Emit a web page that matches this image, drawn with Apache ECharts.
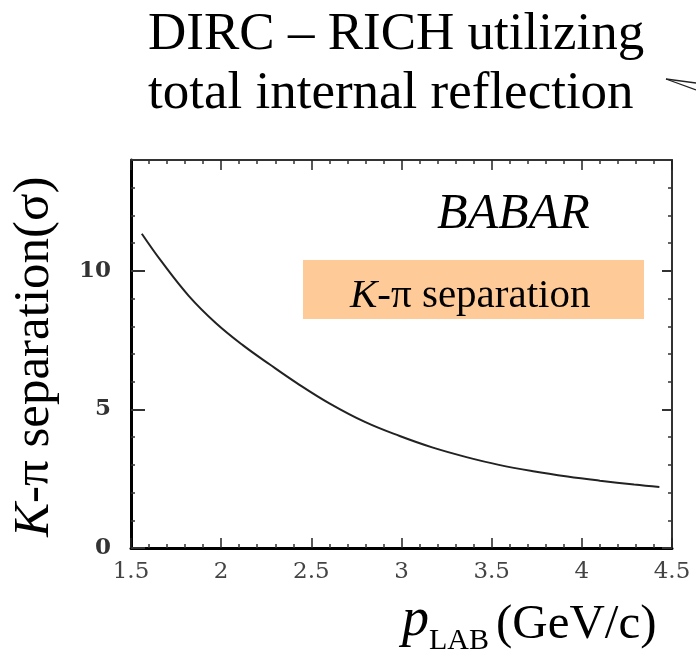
<!DOCTYPE html>
<html>
<head>
<meta charset="utf-8">
<script src="https://cdn.jsdelivr.net/npm/echarts@6/dist/echarts.min.js"></script>
<style>html,body{margin:0;padding:0;background:#fff;}#c{width:696px;height:652px;}</style>
</head>
<body>
<div id="c"></div>
<script>
// Data
const momentum = [1.56, 1.67, 1.82, 1.97, 2.12, 2.27, 2.42, 2.60, 2.80, 2.99, 3.17, 3.36, 3.54, 3.73, 3.92, 4.10, 4.29, 4.43];
const separation = [11.34, 10.33, 9.10, 8.12, 7.32, 6.62, 5.95, 5.22, 4.54, 4.04, 3.63, 3.28, 3.00, 2.77, 2.58, 2.43, 2.29, 2.20];
const titleLines = ['DIRC – RICH utilizing', 'total internal reflection'];
const experimentLabel = 'BABAR';
const boxLabel = 'K-π separation';
const xTickLabels = ['1.5', '2', '2.5', '3', '3.5', '4', '4.5'];
const yTickLabels = ['0', '5', '10'];

const chart = echarts.init(document.getElementById('c'));
const serif = '"Liberation Serif", "Times New Roman", serif';
const tickFont = '"DejaVu Serif", serif';

const points = momentum.map((x, i) => [x, separation[i]]);

function xAxisBase(pos, show) {
  return {
    type: 'value', position: pos, min: 1.5, max: 4.5, interval: 0.5,
    axisLine: { show: true, onZero: false, lineStyle: { color: pos === 'bottom' ? '#000' : '#333', width: pos === 'bottom' ? 3 : 2 } },
    axisTick: { show: true, inside: true, length: 10, lineStyle: { color: '#222', width: 1.5 } },
    minorTick: { show: true, splitNumber: 5, length: 4, lineStyle: { color: '#333', width: 1.5 } },
    splitLine: { show: false },
    axisLabel: {
      show: show, margin: 13, color: '#444', fontFamily: tickFont, fontSize: 23,
      formatter: function (v) { const s = String(+v.toFixed(1)); return xTickLabels.indexOf(s) >= 0 ? s : ''; }
    }
  };
}

function yAxisBase(pos, interval, tickLen, showLine, showLabel) {
  return {
    type: 'value', position: pos, min: 0, max: 14, interval: interval,
    axisLine: { show: showLine, onZero: false, lineStyle: { color: pos === 'left' ? '#000' : '#333', width: pos === 'left' ? 3 : 2 } },
    axisTick: { show: true, inside: true, length: tickLen, lineStyle: { color: '#333', width: interval === 5 ? 2 : 1.5 } },
    splitLine: { show: false },
    axisLabel: {
      show: showLabel, margin: 20, color: '#333', fontFamily: tickFont, fontSize: 23, fontWeight: 'bold',
      formatter: function (v) { const s = String(v); return yTickLabels.indexOf(s) >= 0 ? s : ''; }
    }
  };
}

chart.setOption({
  animation: false,
  backgroundColor: '#fff',
  grid: { left: 131, right: 24, top: 160, bottom: 104, containLabel: false },
  xAxis: [xAxisBase('bottom', true), xAxisBase('top', false)],
  yAxis: [
    yAxisBase('left', 1, 4, true, false),
    yAxisBase('left', 5, 14, false, true),
    yAxisBase('right', 1, 4, true, false),
    yAxisBase('right', 5, 10, false, false)
  ],
  series: [{
    type: 'line', xAxisIndex: 0, yAxisIndex: 0, data: points, smooth: 0.4,
    showSymbol: false, lineStyle: { color: '#222', width: 2 }
  }],
  graphic: [
    { type: 'text', x: 148, y: 35, style: { text: titleLines[0], fill: '#000', font: '53px ' + serif, verticalAlign: 'middle', align: 'left' } },
    { type: 'text', x: 148, y: 94, style: { text: titleLines[1], fill: '#000', font: '53px ' + serif, verticalAlign: 'middle', align: 'left' } },
    { type: 'line', shape: { x1: 666, y1: 79, x2: 696, y2: 83 }, style: { stroke: '#222', lineWidth: 1.3 } },
    { type: 'line', shape: { x1: 666, y1: 79, x2: 696, y2: 90 }, style: { stroke: '#222', lineWidth: 1.3 } },
    { type: 'text', x: 437, y: 215, style: { text: experimentLabel, fill: '#000', font: 'italic 50px ' + serif, verticalAlign: 'middle', align: 'left' } },
    { type: 'rect', shape: { x: 303, y: 260, width: 341, height: 59 }, style: { fill: '#FECA98' } },
    { type: 'text', x: 350, y: 296, style: {
        text: '{i|K}{n|' + boxLabel.slice(1) + '}', verticalAlign: 'middle', align: 'left',
        rich: { i: { fontFamily: serif, fontStyle: 'italic', fontSize: 41, color: '#000' }, n: { fontFamily: serif, fontSize: 41, color: '#000' } }
    } },
    { type: 'text', x: 35, y: 537, rotation: Math.PI / 2, style: {
        text: '{i|K}{n|-π separation(σ)}', verticalAlign: 'middle', align: 'left',
        rich: { i: { fontFamily: serif, fontStyle: 'italic', fontSize: 51, color: '#000' }, n: { fontFamily: serif, fontSize: 51, color: '#000' } }
    } },
    { type: 'text', x: 402, y: 621, style: { text: 'p', fill: '#000', font: 'italic 54px ' + serif, verticalAlign: 'middle', align: 'left' } },
    { type: 'text', x: 429, y: 641, style: { text: 'LAB', fill: '#000', font: '30px ' + serif, verticalAlign: 'middle', align: 'left' } },
    { type: 'text', x: 496, y: 625, style: { text: '(GeV/c)', fill: '#000', font: '49px ' + serif, verticalAlign: 'middle', align: 'left' } }
  ]
});
</script>
</body>
</html>
